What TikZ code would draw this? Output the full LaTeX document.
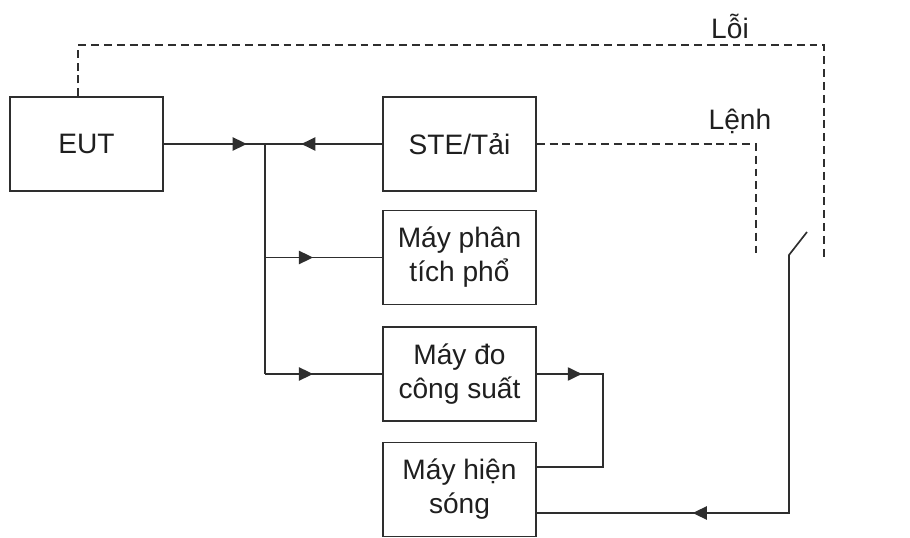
\documentclass[tikz,border=0pt]{standalone}
\usepackage{fontspec}
\setmainfont{Liberation Sans}
\usepackage{xcolor}
\usepackage{tikz}
\usetikzlibrary{arrows.meta, decorations.markings}
\definecolor{linegray}{HTML}{2E2E2E}
\definecolor{textgray}{HTML}{1F1F1F}
\tikzset{every node/.append style={font=\fontsize{16pt}{19.4pt}\selectfont, text=textgray}}
\tikzset{
  unitbox/.style={draw=linegray, line width=0.95pt, minimum width=3.06cm, minimum height=1.88cm, align=center, inner sep=0pt},
  sigline/.style={draw=linegray, line width=0.95pt},
  ctrlline/.style={draw=linegray, line width=0.9pt, dash pattern=on 4.5pt off 2.8pt},
  midarrow/.style={postaction={decorate}, decoration={markings, mark=at position #1 with {\arrow{Triangle[length=8pt, width=7.5pt]}}}},
}

\begin{document}
\begin{tikzpicture}
    \useasboundingbox (0,0) rectangle (18.2,10.76);

    % Measurement boxes
    \node[unitbox] (eut) at (1.73,7.88) {EUT};
    \node[unitbox] (ste) at (9.19,7.88) {STE/Tải};
    \node[unitbox] (phan) at (9.19,5.61) {Máy phân\\tích phổ};
    \node[unitbox] (do) at (9.19,3.28) {Máy đo\\công suất};
    \node[unitbox] (hien) at (9.19,0.97) {Máy hiện\\sóng};

    % Junction, loop and switch points
    \coordinate (jn) at (5.30,7.88);
    \coordinate (loop) at (12.06,3.28);
    \coordinate (swlo) at (15.78,5.66);
    \coordinate (swhi) at (16.14,6.12);
    \coordinate (loiend) at (16.48,5.60);
    \coordinate (cmdend) at (15.12,5.60);

    % Signal lines
    \draw[sigline, midarrow=0.82] (eut) -- (jn);
    \draw[sigline, midarrow=0.69] (ste) -- (jn);
    \draw[sigline] (jn) -- (jn |- do.west);
    \draw[sigline, midarrow=0.41] (jn |- phan.west) -- (phan.west);
    \draw[sigline, midarrow=0.41] (jn |- do.west) -- (do.west);
    \draw[sigline, midarrow=0.2] (do.east) -- (loop) |- ([yshift=0.45cm]hien.east);
    \draw[sigline, midarrow=0.711] (swhi) -- (swlo) |- ([yshift=-0.47cm]hien.east);

    % Control lines
    \draw[ctrlline] ([xshift=-0.17cm]eut.north) -- ++(0,1.02) -| (loiend);
    \draw[ctrlline] (ste.east) -| (cmdend);

    % Labels
    \node (loi) at (14.6,10.24) {Lỗi};
    \node (lenh) at (14.8,8.34) {Lệnh};
\end{tikzpicture}
\end{document}
